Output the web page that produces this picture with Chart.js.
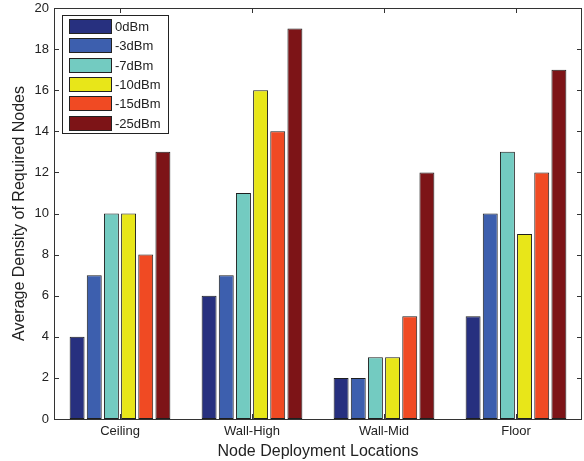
<!DOCTYPE html>
<html>
<head>
<meta charset="utf-8">
<script src="https://cdn.jsdelivr.net/npm/chart.js@4"></script>
<style>
  html, body { margin: 0; padding: 0; background: #fff; }
  #wrap { width: 584px; height: 461px; }
</style>
</head>
<body>
<div id="wrap"><canvas id="myChart"></canvas></div>
<script>
// data
var locations = ['Ceiling', 'Wall-High', 'Wall-Mid', 'Floor'];
var powerLevels = ['0dBm', '-3dBm', '-7dBm', '-10dBm', '-15dBm', '-25dBm'];
var p0 = [4, 6, 2, 5];
var p3 = [7, 7, 2, 10];
var p7 = [10, 11, 3, 13];
var p10 = [10, 16, 3, 9];
var p15 = [8, 14, 5, 12];
var p25 = [13, 19, 12, 17];
var yTicks = [0, 2, 4, 6, 8, 10, 12, 14, 16, 18, 20];

var colors = ['#27307f', '#3d5fae', '#73cbc1', '#e8e619', '#f04a23', '#7d1417'];
var FONT = '"Liberation Sans", Arial, sans-serif';

var series = [p0, p3, p7, p10, p15, p25];
var datasets = series.map(function(d, i) {
    return {
        label: powerLevels[i],
        data: d,
        backgroundColor: colors[i],
        borderColor: '#1e1e1e',
        borderWidth: 1,
        borderSkipped: false,
        barPercentage: 0.87,
        categoryPercentage: 0.78
    };
});

// matlab style box, inward ticks and legend
var matlabFrame = {
    id: 'matlabFrame',
    afterDraw: function(chart) {
        var ctx = chart.ctx, a = chart.chartArea;
        var x = chart.scales.x, y = chart.scales.y;
        ctx.save();
        ctx.strokeStyle = '#333';
        ctx.lineWidth = 1;
        ctx.strokeRect(Math.round(a.left) + 0.5, Math.round(a.top) + 0.5,
            Math.round(a.right - a.left) - 1, Math.round(a.bottom - a.top));
        ctx.beginPath();
        yTicks.forEach(function(v) {
            var py = Math.round(y.getPixelForValue(v)) + 0.5;
            ctx.moveTo(a.left, py); ctx.lineTo(a.left + 5, py);
            ctx.moveTo(a.right, py); ctx.lineTo(a.right - 5, py);
        });
        locations.forEach(function(c, i) {
            var px = Math.round(x.getPixelForValue(i)) + 0.5;
            ctx.moveTo(px, a.top); ctx.lineTo(px, a.top + 5);
            ctx.moveTo(px, a.bottom); ctx.lineTo(px, a.bottom - 5);
        });
        ctx.stroke();

        // legend box
        var lx = 62, ly = 15, lw = 106, lh = 118;
        ctx.fillStyle = '#fff';
        ctx.fillRect(lx, ly, lw, lh);
        ctx.strokeStyle = '#222';
        ctx.strokeRect(lx + 0.5, ly + 0.5, lw, lh);
        ctx.font = '13px ' + FONT;
        ctx.textBaseline = 'middle';
        chart.data.datasets.forEach(function(ds, i) {
            var sy = 19 + i * 19.3;
            ctx.fillStyle = ds.backgroundColor;
            ctx.fillRect(69, Math.round(sy), 42, 14);
            ctx.strokeStyle = '#222';
            ctx.strokeRect(69.5, Math.round(sy) + 0.5, 42, 14);
            ctx.fillStyle = '#222';
            ctx.fillText(ds.label, 115, Math.round(sy) + 8);
        });
        ctx.restore();
    }
};

var myChart = new Chart(document.getElementById('myChart'), {
    type: 'bar',
    data: { labels: locations, datasets: datasets },
    plugins: [matlabFrame],
    options: {
        responsive: true,
        maintainAspectRatio: false,
        animation: false,
        layout: { padding: { top: 8, right: 2, left: 0, bottom: 0 } },
        plugins: { legend: { display: false }, tooltip: { enabled: false } },
        scales: {
            x: {
                grid: { display: false, drawTicks: false },
                border: { display: false },
                ticks: { color: '#222', padding: 5, font: { family: FONT, size: 13 } },
                title: { display: true, text: 'Node Deployment Locations', color: '#222',
                    padding: { top: 1, bottom: 0 }, font: { family: FONT, size: 16 } },
                afterFit: function(s) { s.height = 42; s.paddingLeft = 0; s.paddingRight = 0; }
            },
            y: {
                min: 0, max: 20,
                afterBuildTicks: function(s) { s.ticks = yTicks.map(function(v) { return { value: v }; }); },
                grid: { display: false, drawTicks: false },
                border: { display: false },
                ticks: { color: '#222', padding: 5, font: { family: FONT, size: 13 } },
                title: { display: true, text: 'Average Density of Required Nodes', color: '#222',
                    padding: { top: 10, bottom: 0 }, font: { family: FONT, size: 16 } },
                afterFit: function(s) { s.width = 54; s.paddingTop = 0; s.paddingBottom = 0; }
            }
        }
    }
});
</script>
</body>
</html>
